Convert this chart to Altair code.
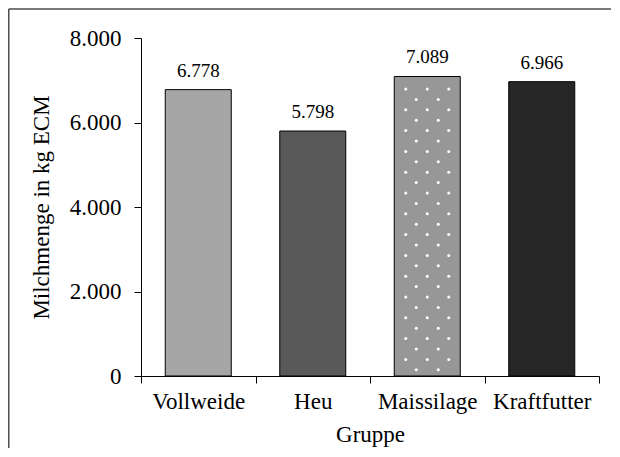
import altair as alt
import pandas as pd

# Data
gruppen = ["Vollweide", "Heu", "Maissilage", "Kraftfutter"]
milchmenge = [6778, 5798, 7089, 6966]
farben = ["#a6a6a6", "#595959", "#979797", "#262626"]

df = pd.DataFrame({"Gruppe": gruppen, "Milchmenge": milchmenge})

FONT = "Liberation Serif"
W, H = 458, 338
YMAX = 8000
STEP = W / len(gruppen)

# decorative dot pattern for the "Maissilage" bar (pattern fill emulation)
unit_per_px = YMAX / H
pat_val = milchmenge[gruppen.index("Maissilage")]
rows = []
y = pat_val - 12.5 * unit_per_px
r = 0
while y > 3 * unit_per_px:
    offs = [-21.5, 0, 21.5] if r % 2 == 0 else [-11, 11]
    for o in offs:
        rows.append({"Gruppe": "Maissilage", "yv": y, "off": o})
    y -= 10.4 * unit_per_px
    r += 1
dots_df = pd.DataFrame(rows)

x_enc = alt.X(
    "Gruppe:N",
    sort=gruppen,
    scale=alt.Scale(paddingInner=0, paddingOuter=0),
    axis=alt.Axis(
        title="Gruppe",
        labelAngle=0,
        tickBand="extent",
        tickSize=7,
        labelPadding=7,
        titlePadding=10,
        domainColor="black",
        tickColor="black",
        labelColor="black",
        titleColor="black",
        labelFont=FONT,
        titleFont=FONT,
        labelFontSize=23,
        titleFontSize=23,
        titleFontWeight="normal",
    ),
)

y_scale = alt.Scale(domain=[0, YMAX], nice=False)

bars = alt.Chart(df).mark_bar(
    width=alt.RelativeBandSize(66 / STEP), stroke="black", strokeWidth=1
).encode(
    x=x_enc,
    y=alt.Y(
        "Milchmenge:Q",
        scale=y_scale,
        axis=alt.Axis(
            title="Milchmenge in kg ECM",
            values=[0, 2000, 4000, 6000, 8000],
            labelExpr="replace(format(datum.value, ','), ',', '.')",
            grid=False,
            tickSize=7,
            labelPadding=13,
            titlePadding=16,
            domainColor="black",
            tickColor="black",
            labelColor="black",
            titleColor="black",
            labelFont=FONT,
            titleFont=FONT,
            labelFontSize=23,
            titleFontSize=23,
            titleFontWeight="normal",
        ),
    ),
    color=alt.Color(
        "Gruppe:N",
        scale=alt.Scale(domain=gruppen, range=farben),
        legend=None,
    ),
)

dot_layers = []
for o in sorted(dots_df["off"].unique()):
    sub = dots_df[dots_df["off"] == o]
    dot_layers.append(
        alt.Chart(sub).mark_point(
            filled=True, color="white", size=9, opacity=1, shape="circle"
        ).encode(
            x=alt.X("Gruppe:N", sort=gruppen, bandPosition=0.5 + o / STEP),
            y=alt.Y("yv:Q", scale=y_scale),
        )
    )

labels = alt.Chart(df).transform_calculate(
    lab="replace(format(datum.Milchmenge, ','), ',', '.')"
).mark_text(
    font=FONT, fontSize=19, color="black", baseline="alphabetic", dy=-13
).encode(
    x=alt.X("Gruppe:N", sort=gruppen),
    y=alt.Y("Milchmenge:Q", scale=y_scale),
    text="lab:N",
)

one = pd.DataFrame({"a": [0]})
frame_top = alt.Chart(one).mark_rule(stroke="#4d4d4d", strokeWidth=1.5).encode(
    x=alt.value(-132.25), x2=alt.value(1000), y=alt.value(-29)
)
frame_left = alt.Chart(one).mark_rule(stroke="#4d4d4d", strokeWidth=1.5).encode(
    x=alt.value(-132.25), y=alt.value(-29), y2=alt.value(1000)
)

chart = alt.layer(bars, *dot_layers, labels, frame_top, frame_left).properties(
    width=W,
    height=H,
    autosize=alt.AutoSizeParams(type="none"),
    padding={"left": 133, "top": 30, "right": 12, "bottom": 72},
    background="white",
).configure_view(stroke=None)

chart.save("out.html", embed_options={"renderer": "svg", "actions": False})
